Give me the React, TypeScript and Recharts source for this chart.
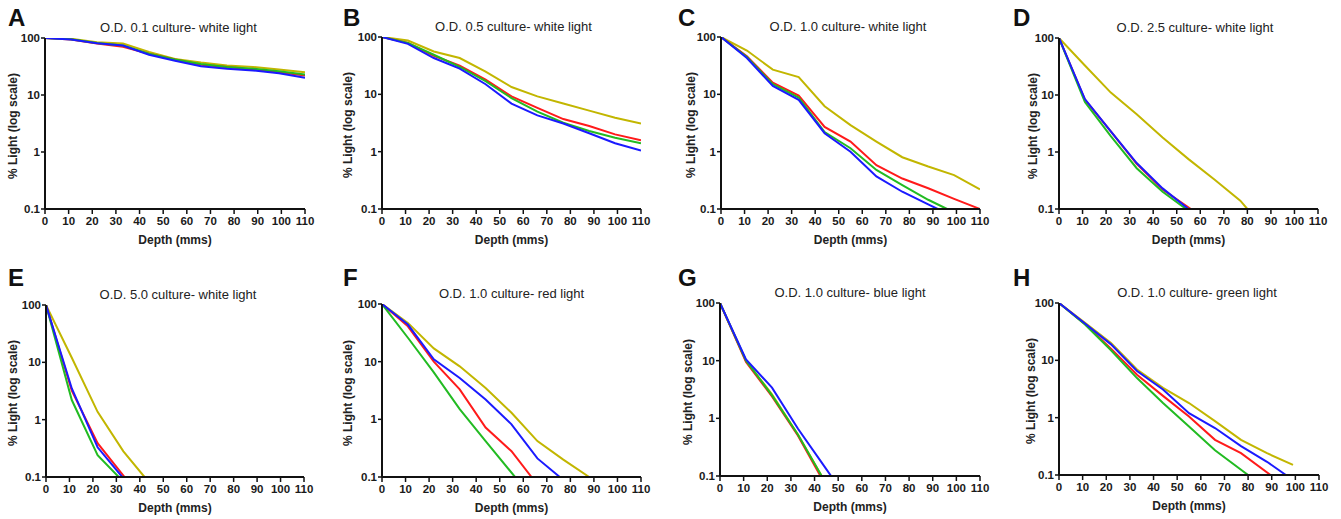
import React from 'react';
import { LineChart, Line, XAxis, YAxis } from 'recharts';

// Depth ticks (mm) and light ticks (% log scale)
const depthTicks = [0, 10, 20, 30, 40, 50, 60, 70, 80, 90, 100, 110];
const lightTicks = [0.1, 1, 10, 100];

// Series colours (culture types)
const seriesNames = ['yellow', 'red', 'green', 'blue'];
const seriesColors = ['#c2b600', '#ff1a1a', '#22bb22', '#1a1aff'];

// Panel A: O.D. 0.1 culture - white light  ([depth, % light])
const aYellow = [[0, 100], [11, 97], [22, 84], [33, 80], [44, 57], [55, 43], [66, 37], [77, 33], [88, 31], [99, 28], [110, 25]];
const aRed = [[0, 100], [11, 94], [22, 80], [33, 70], [44, 53], [55, 42], [66, 34], [77, 31], [88, 28], [99, 25], [110, 22]];
const aGreen = [[0, 100], [11, 95], [22, 82], [33, 74], [44, 53], [55, 42], [66, 35], [77, 31], [88, 29], [99, 26], [110, 23]];
const aBlue = [[0, 100], [11, 94], [22, 81], [33, 74], [44, 51], [55, 40], [66, 32], [77, 29], [88, 27], [99, 24], [110, 20]];

// Panel B: O.D. 0.5 culture - white light
const bYellow = [[0, 100], [11, 87], [22, 56], [33, 43], [44, 25], [55, 13.4], [66, 9.2], [77, 6.9], [88, 5.2], [99, 3.9], [110, 3.1]];
const bRed = [[0, 100], [11, 79], [22, 47], [33, 31.6], [44, 18], [55, 9.2], [66, 5.8], [77, 3.7], [88, 2.8], [99, 2.0], [110, 1.58]];
const bGreen = [[0, 100], [11, 79], [22, 49], [33, 30], [44, 17], [55, 8.6], [66, 5.0], [77, 3.2], [88, 2.3], [99, 1.75], [110, 1.4]];
const bBlue = [[0, 100], [11, 76], [22, 43], [33, 28], [44, 15], [55, 6.9], [66, 4.3], [77, 3.1], [88, 2.1], [99, 1.4], [110, 1.05]];

// Panel C: O.D. 1.0 culture - white light
const cYellow = [[0, 100], [11, 58], [22, 27], [33, 20], [44, 6.2], [55, 2.9], [66, 1.5], [77, 0.8], [88, 0.55], [99, 0.39], [110, 0.22]];
const cRed = [[0, 100], [11, 46], [22, 16], [33, 9.5], [44, 2.7], [55, 1.5], [66, 0.58], [77, 0.34], [88, 0.23], [99, 0.15], [110, 0.1]];
const cGreen = [[0, 100], [11, 45], [22, 15], [33, 8.8], [44, 2.2], [55, 1.15], [66, 0.48], [77, 0.26], [88, 0.145], [96, 0.1]];
const cBlue = [[0, 100], [11, 43], [22, 14], [33, 8], [44, 2.1], [55, 1.0], [66, 0.37], [77, 0.2], [88, 0.12], [92, 0.1]];

// Panel D: O.D. 2.5 culture - white light
const dYellow = [[0, 100], [11, 33], [22, 11], [33, 4.6], [44, 1.8], [55, 0.75], [66, 0.33], [77, 0.14], [80, 0.1]];
const dRed = [[0, 100], [11, 8.3], [22, 2.3], [33, 0.62], [44, 0.22], [56, 0.1]];
const dGreen = [[0, 100], [11, 7.5], [22, 1.9], [33, 0.52], [44, 0.2], [54, 0.1]];
const dBlue = [[0, 100], [11, 8.5], [22, 2.3], [33, 0.64], [44, 0.23], [55, 0.1]];

// Panel E: O.D. 5.0 culture - white light
const eYellow = [[0, 100], [11, 12], [22, 1.37], [33, 0.28], [42, 0.1]];
const eRed = [[0, 100], [11, 3.2], [22, 0.39], [33.5, 0.1]];
const eGreen = [[0, 100], [11, 2.2], [22, 0.24], [31, 0.1]];
const eBlue = [[0, 100], [11, 3.5], [22, 0.33], [32.5, 0.1]];

// Panel F: O.D. 1.0 culture - red light
const fYellow = [[0, 100], [11, 47], [22, 17], [33, 8.3], [44, 3.5], [55, 1.3], [66, 0.42], [77, 0.2], [88, 0.1]];
const fRed = [[0, 100], [11, 41], [22, 10], [33, 3.3], [44, 0.72], [55, 0.28], [63.5, 0.1]];
const fGreen = [[0, 100], [11, 26], [22, 6.5], [33, 1.5], [44, 0.42], [56.5, 0.1]];
const fBlue = [[0, 100], [11, 44], [22, 11], [33, 5.2], [44, 2.2], [55, 0.82], [66, 0.21], [75.5, 0.1]];

// Panel G: O.D. 1.0 culture - blue light
const gYellow = [[0, 100], [11, 10], [22, 2.6], [33, 0.52], [43, 0.1]];
const gRed = [[0, 100], [11, 9.5], [22, 2.4], [33, 0.5], [42.5, 0.1]];
const gGreen = [[0, 100], [11, 10], [22, 2.5], [33, 0.52], [43, 0.1]];
const gBlue = [[0, 100], [11, 10.5], [22, 3.4], [33, 0.66], [44, 0.15], [47, 0.1]];

// Panel H: O.D. 1.0 culture - green light
const hYellow = [[0, 100], [11, 45], [22, 20], [33, 6.9], [44, 3.3], [55, 1.8], [66, 0.87], [77, 0.41], [88, 0.24], [99, 0.15]];
const hRed = [[0, 100], [11, 43], [22, 16], [33, 5.6], [44, 2.4], [55, 1.05], [66, 0.41], [77, 0.24], [89.5, 0.1]];
const hGreen = [[0, 100], [11, 42], [22, 15], [33, 4.9], [44, 1.8], [55, 0.7], [66, 0.27], [80, 0.1]];
const hBlue = [[0, 100], [11, 44], [22, 19], [33, 6.5], [44, 3.1], [55, 1.2], [66, 0.66], [77, 0.32], [88, 0.17], [96, 0.1]];

const panelLetters = ['A', 'B', 'C', 'D', 'E', 'F', 'G', 'H'];
const panelTitles = [
  'O.D. 0.1 culture- white light',
  'O.D. 0.5 culture- white light',
  'O.D. 1.0 culture- white light',
  'O.D. 2.5 culture- white light',
  'O.D. 5.0 culture- white light',
  'O.D. 1.0 culture- red light',
  'O.D. 1.0 culture- blue light',
  'O.D. 1.0 culture- green light',
];
const panelSeries = [
  [aYellow, aRed, aGreen, aBlue],
  [bYellow, bRed, bGreen, bBlue],
  [cYellow, cRed, cGreen, cBlue],
  [dYellow, dRed, dGreen, dBlue],
  [eYellow, eRed, eGreen, eBlue],
  [fYellow, fRed, fGreen, fBlue],
  [gYellow, gRed, gGreen, gBlue],
  [hYellow, hRed, hGreen, hBlue],
];

// Layout: plot-area boxes (left, top, right, bottom) in page px, plus text offsets
const layout = [
  { px: 0, py: 0, l: 45, t: 38, r: 305, b: 209, tx: 3.5, yl: 32 },
  { px: 335, py: 0, l: 382, t: 37, r: 641, b: 209, tx: 2, yl: 34 },
  { px: 670, py: 0, l: 721, t: 37, r: 980, b: 209, tx: -2.5, yl: 30 },
  { px: 1005, py: 0, l: 1059, t: 38, r: 1318, b: 209, tx: 6.5, yl: 26 },
  { px: 0, py: 260, l: 46, t: 305, r: 304, b: 477, tx: 3, yl: 33 },
  { px: 335, py: 260, l: 382, t: 304, r: 641, b: 477, tx: 0, yl: 34 },
  { px: 670, py: 260, l: 720, t: 303, r: 980, b: 476, tx: 0, yl: 32 },
  { px: 1005, py: 260, l: 1059, t: 303, r: 1319, b: 475, tx: 8, yl: 28 },
];

const FONT = 'Arial, "Liberation Sans", Helvetica, sans-serif';
const CW = 336;
const CH = 260;
const YW = 40;
const XH = 30;

function fmtLight(v: number) {
  return v === 0.1 ? '0.1' : String(v);
}

function Panel({ i }: { i: number }) {
  const L = layout[i];
  const mLeft = L.l - L.px - YW;
  const mTop = L.t - L.py;
  const mRight = L.px + CW - L.r;
  const mBottom = L.py + CH - L.b - XH;
  const plotCx = (L.l + L.r) / 2;
  const plotCy = (L.t + L.b) / 2;
  const tick = { fontSize: 11.5, fontWeight: 700, fill: '#1a1a1a', fontFamily: FONT };
  return (
    <>
      <div style={{ position: 'absolute', left: L.px, top: L.py }}>
        <LineChart width={CW} height={CH} margin={{ top: mTop, right: mRight, bottom: mBottom, left: mLeft }}>
          <XAxis
            type="number"
            dataKey="x"
            domain={[0, 110]}
            ticks={depthTicks}
            interval={0}
            allowDataOverflow
            height={XH}
            axisLine={{ stroke: '#111', strokeWidth: 2 }}
            tickLine={{ stroke: '#111', strokeWidth: 1.5 }}
            tickSize={5}
            tickMargin={3}
            tick={tick}
          />
          <YAxis
            type="number"
            scale="log"
            domain={[0.1, 100]}
            ticks={lightTicks}
            interval={0}
            allowDataOverflow
            width={YW}
            axisLine={{ stroke: '#111', strokeWidth: 2 }}
            tickLine={{ stroke: '#111', strokeWidth: 1.5 }}
            tickSize={4}
            tickMargin={1}
            tick={tick}
            tickFormatter={fmtLight}
          />
          {panelSeries[i].map((s, k) => (
            <Line
              key={seriesNames[k]}
              data={s.map(([x, y]) => ({ x, y }))}
              dataKey="y"
              type="linear"
              stroke={seriesColors[k]}
              strokeWidth={2}
              dot={false}
              activeDot={false}
              isAnimationActive={false}
            />
          ))}
        </LineChart>
      </div>
      <div style={{ position: 'absolute', left: L.px + 8, top: L.py + 4.5, fontFamily: FONT, fontWeight: 700, fontSize: 24, lineHeight: '26px', color: '#111' }}>
        {panelLetters[i]}
      </div>
      <div style={{ position: 'absolute', left: plotCx + L.tx - 150, width: 300, top: L.t - 18.5, textAlign: 'center', fontFamily: FONT, fontSize: 13, lineHeight: '15px', color: '#222' }}>
        {panelTitles[i]}
      </div>
      <div style={{ position: 'absolute', left: plotCx - 100, width: 200, top: L.b + 23.5, textAlign: 'center', fontFamily: FONT, fontSize: 12, fontWeight: 700, lineHeight: '14px', color: '#222' }}>
        Depth (mms)
      </div>
      <div style={{ position: 'absolute', left: L.l - L.yl - 100, width: 200, top: plotCy - 7 + 2, textAlign: 'center', fontFamily: FONT, fontSize: 12, fontWeight: 700, lineHeight: '14px', color: '#222', transform: 'rotate(-90deg)', transformOrigin: '50% 50%' }}>
        % Light (log scale)
      </div>
    </>
  );
}

export default function App() {
  return (
    <div style={{ position: 'absolute', left: 0, top: 0, width: 1341, height: 519, background: '#fff', overflow: 'hidden' }}>
      {panelLetters.map((_, i) => (
        <Panel key={i} i={i} />
      ))}
    </div>
  );
}
